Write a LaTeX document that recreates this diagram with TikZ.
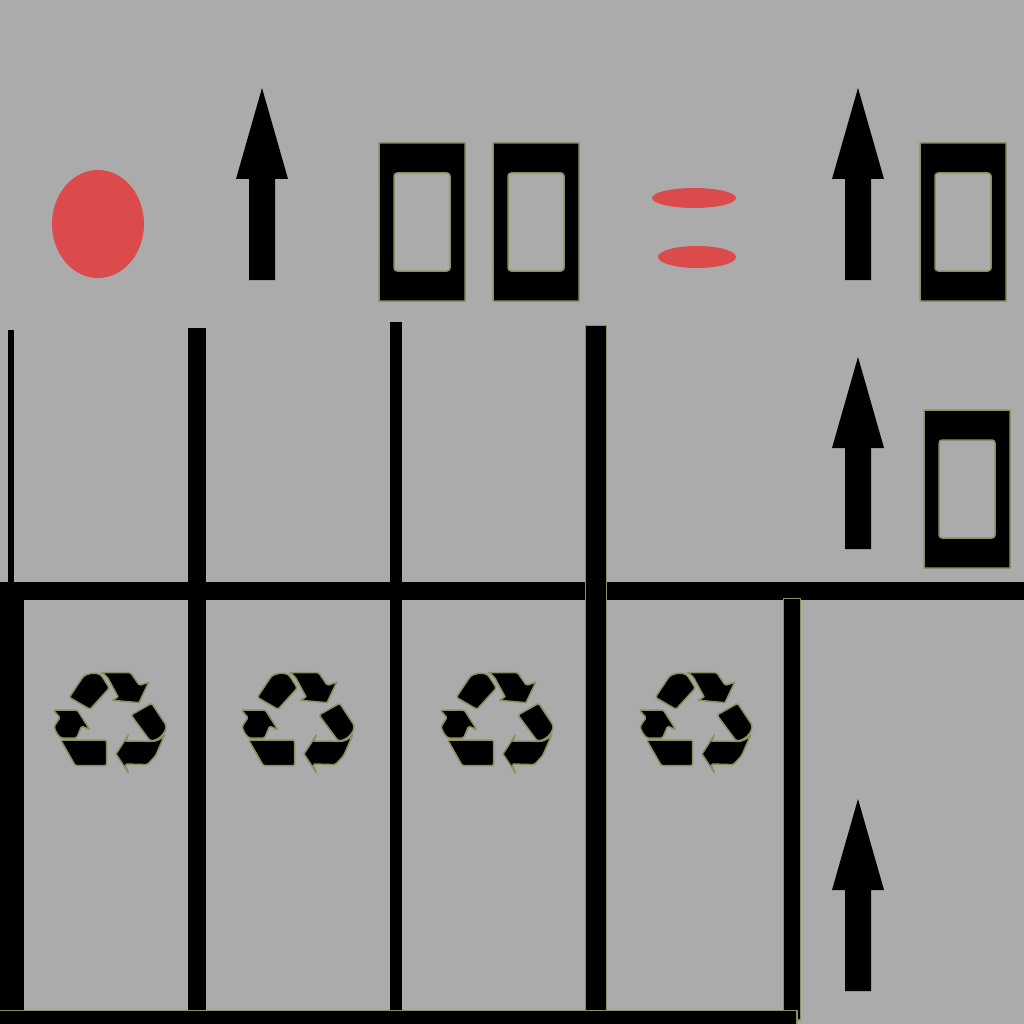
\documentclass[tikz,border=0pt]{standalone}
\definecolor{panelgray}{HTML}{ABABAB}
\definecolor{blobred}{HTML}{DC4B4B}
\definecolor{halo}{HTML}{8E8E62}
\tikzset{
    solid bar/.style={fill=black},
    halo bar/.style={fill=black,draw=halo,line width=1.5pt,line join=round},
    blob/.style={fill=blobred},
    uparrow/.pic={
        \fill[black] (0,0) -- (26,91) -- (13,91) -- (13,192) -- (-13,192) -- (-13,91) -- (-26,91) -- cycle;
    },
    window/.pic={
        \filldraw[halo bar,even odd rule] (0,0) rectangle (86,158)
            [rounded corners=3pt] (15,30) rectangle (71,128);
    },
    recycle/.pic={
        \begin{scope}[scale=1/3,halo bar,rounded corners=1.5pt]
        \path[fill=black,draw=halo] (88,112) -- (128,52) .. controls (140,40) and (168,36) .. (184,46) -- (208,84) -- (150,148) -- cycle;
        \path[fill=black,draw=halo] (185,38) -- (272,38) -- (298,76) [sharp corners] -- (326,67) -- (297,128) -- (218,121) -- (234,110) -- (210,66) .. controls (204,52) and (195,44) .. cycle;
        \path[fill=black,draw=halo] (273,165) -- (335,130) -- (378,195) .. controls (378,222) and (352,242) .. (330,242) -- cycle;
        \path[fill=black,draw=halo] (374,225) -- (347,287) -- (322,314) -- (255,312) [sharp corners] -- (265,338) -- (228,282) -- (265,225) -- (258,243) -- (335,244) .. controls (350,244) and (362,238) .. cycle;
        \path[fill=black,draw=halo] (62,240) -- (200,240) -- (200,317) -- (106,317) -- cycle;
        \path[fill=black,draw=halo] (40,150) -- (112,150) -- (150,210) -- (125,198) -- (110,234) -- (63,234) .. controls (50,222) and (42,205) .. (45,195) -- (60,173) -- cycle;
        \end{scope}
    }
}

\begin{document}
\begin{tikzpicture}[x=1pt,y=-1pt]
\useasboundingbox (0,0) rectangle (1024,1024);
\fill[panelgray] (0,0) rectangle (1024,1024);

% top row
\fill[blob] (98,224) ellipse [x radius=46,y radius=54];
\fill[blob] (694,198) ellipse [x radius=42,y radius=10];
\fill[blob] (697,257) ellipse [x radius=39,y radius=11];
\pic at (262,88) {uparrow};
\pic at (858,88) {uparrow};
\pic at (858,357) {uparrow};
\pic at (858,799) {uparrow};
\foreach \wx/\wy in {379/143,493/143,920/143,924/410} {
    \pic at (\wx,\wy) {window};
}

% walls
\fill[solid bar] (0,582) rectangle (1024,600);
\fill[solid bar] (0,582) rectangle (24,1010);
\fill[solid bar] (8,330) rectangle (14,582);
\fill[solid bar] (188,328) rectangle (206,1010);
\fill[solid bar] (390,322) rectangle (402,1010);
\filldraw[halo bar] (585.5,325.5) rectangle (606.5,1011);
\filldraw[halo bar] (783.5,598.5) rectangle (800.5,1020);
\filldraw[halo bar] (-2,1010.5) rectangle (797,1026);

% bins
\foreach \bx in {40,228,427,626} {
    \pic at (\bx,660) {recycle};
}
\end{tikzpicture}
\end{document}
